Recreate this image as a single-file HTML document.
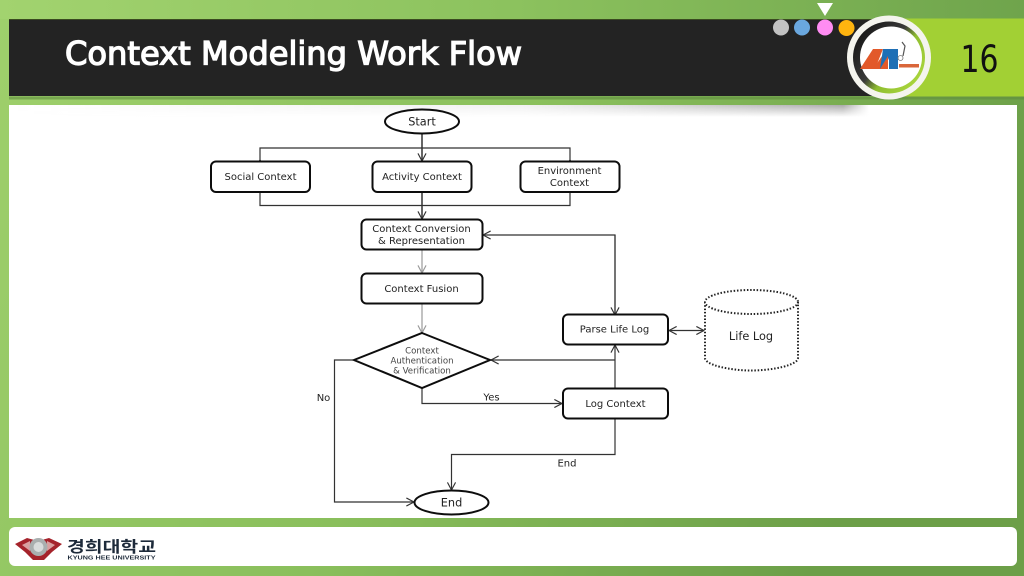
<!DOCTYPE html>
<html>
<head>
<meta charset="utf-8">
<style>
html,body{margin:0;padding:0;width:1024px;height:576px;overflow:hidden;background:#8cc05c}
svg{display:block}
text{font-family:"DejaVu Sans","Liberation Sans",sans-serif;fill:#222;text-anchor:middle}
</style>
</head>
<body>
<svg width="1024" height="576" viewBox="0 0 1024 576" xmlns="http://www.w3.org/2000/svg">
<defs>
<linearGradient id="bg" x1="0" y1="0" x2="1" y2="0.3">
<stop offset="0" stop-color="#9fd06c"/><stop offset="0.55" stop-color="#8abf5c"/><stop offset="1" stop-color="#6c9f48"/>
</linearGradient>
<linearGradient id="topb" x1="0" y1="0" x2="1" y2="0">
<stop offset="0" stop-color="#a2d36f"/><stop offset="0.5" stop-color="#8cc25e"/><stop offset="1" stop-color="#6fa44c"/>
</linearGradient>
<linearGradient id="shadow" x1="0" y1="0" x2="1" y2="0">
<stop offset="0" stop-color="#888" stop-opacity="0"/><stop offset="0.6" stop-color="#888" stop-opacity=".12"/><stop offset="0.97" stop-color="#666" stop-opacity=".55"/><stop offset="1" stop-color="#666" stop-opacity="0"/>
</linearGradient>
<linearGradient id="shadowFade" x1="0" y1="0" x2="0" y2="1">
<stop offset="0" stop-color="#fff"/><stop offset="1" stop-color="#000"/>
</linearGradient>
<mask id="sm"><rect x="9" y="105" width="860" height="12" fill="url(#shadowFade)"/></mask>
<linearGradient id="ring" x1="0.1" y1="0.2" x2="0.9" y2="0.8">
<stop offset="0" stop-color="#1a1a1a"/><stop offset="0.42" stop-color="#3a3a3a"/><stop offset="0.62" stop-color="#8fbe30"/><stop offset="1" stop-color="#a8d43c"/>
</linearGradient>
<filter id="soft" x="-2%" y="-2%" width="104%" height="104%"><feGaussianBlur stdDeviation="0.35"/></filter>
<marker id="a" viewBox="0 0 10 10" refX="9.5" refY="5" markerWidth="9" markerHeight="9" markerUnits="userSpaceOnUse" orient="auto-start-reverse">
<path d="M1 .5 L9.5 5 L1 9.5" fill="none" stroke="#333" stroke-width="1.3"/>
</marker>
<marker id="g" viewBox="0 0 10 10" refX="9.5" refY="5" markerWidth="9" markerHeight="9" markerUnits="userSpaceOnUse" orient="auto">
<path d="M1 .5 L9.5 5 L1 9.5" fill="none" stroke="#999" stroke-width="1.3"/>
</marker>
</defs>

<!-- background -->
<rect width="1024" height="576" fill="url(#bg)"/>
<rect width="1024" height="19" fill="url(#topb)"/>

<!-- white panels -->
<rect x="9" y="105" width="1008" height="413" fill="#fff"/>
<rect x="9" y="527" width="1008" height="39" rx="6" fill="#fff"/>

<!-- header -->
<rect x="9" y="19" width="900" height="77" fill="#232323"/>
<rect x="9" y="19" width="900" height="1" fill="#3a4a20"/>
<rect x="903" y="18.500" width="121" height="78" fill="#a2d034"/>
<rect x="9" y="96.500" width="1015" height="3" fill="#5f8c3e" opacity=".6"/>
<rect x="9" y="105" width="860" height="12" fill="url(#shadow)" mask="url(#sm)"/>
<text x="65" y="64.500" style="text-anchor:start;fill:#fff;stroke:#fff;stroke-width:1.300;font-size:32px" textLength="457" lengthAdjust="spacingAndGlyphs">Context Modeling Work Flow</text>
<text x="979.500" y="72" style="fill:#111;font-size:37px" textLength="38" lengthAdjust="spacingAndGlyphs">16</text>

<!-- dots -->
<circle cx="781" cy="27.500" r="8" fill="#c2c2c2"/>
<circle cx="802" cy="27.500" r="8" fill="#6aa7de"/>
<circle cx="825" cy="27.500" r="8" fill="#ff8cf2"/>
<circle cx="846.500" cy="28" r="8" fill="#ffb40f"/>
<path d="M817 3H833L825 16Z" fill="#fff"/>

<!-- logo -->
<circle cx="889" cy="57.500" r="42" fill="#f4f4ee"/>
<circle cx="889" cy="57.500" r="36" fill="url(#ring)"/>
<circle cx="891" cy="57.500" r="31" fill="#fff"/>
<path d="M860 69L873 49H883L875 69Z" fill="#e2592a"/>
<path d="M873 69L887 49H892L884 69Z" fill="#e2592a"/>
<path d="M883 49H898V69H889V58L884 69H880Z" fill="#1f6fb5"/>
<path d="M880 69L888 56V69Z" fill="#e2592a"/>
<path d="M902 42L905 46L903 56" fill="none" stroke="#555" stroke-width="1.200"/>
<circle cx="900.500" cy="58" r="2.500" fill="none" stroke="#777" stroke-width=".8"/>
<rect x="899" y="64" width="20" height="3.500" fill="#d9663a"/>

<g filter="url(#soft)">
<!-- connectors -->
<g fill="none" stroke="#333" stroke-width="1.200">
<path d="M422 134V161" marker-end="url(#a)" stroke-width="1.500"/>
<path d="M260 161V148H570V161" />
<path d="M260 161V160" marker-end="url(#a)"/>
<path d="M570 161V160" marker-end="url(#a)"/>
<path d="M260 192V205.500H570V192"/>
<path d="M422 192V219" marker-end="url(#a)" stroke-width="1.500"/>
<path d="M615 315V235H483" marker-end="url(#a)"/>
<path d="M615 235V315" marker-end="url(#a)"/>
<path d="M615 389V345" marker-end="url(#a)"/>
<path d="M615 360H491" marker-end="url(#a)"/>
<path d="M422 388V403.500H562" marker-end="url(#a)"/>
<path d="M353 360H334.500V502H414" marker-end="url(#a)"/>
<path d="M615 418V454.500H451.500V490" marker-end="url(#a)"/>
<path d="M669 330.500H704" marker-start="url(#a)" marker-end="url(#a)"/>
</g>
<g fill="none" stroke="#999" stroke-width="1.200">
<path d="M422 250V273" marker-end="url(#g)"/>
<path d="M422 304V333" marker-end="url(#g)"/>
</g>

<!-- nodes -->
<g fill="#fff" stroke="#111" stroke-width="2">
<ellipse cx="422" cy="121.500" rx="37" ry="12"/>
<rect x="211" y="161.500" width="99" height="30.500" rx="5"/>
<rect x="372.500" y="161.500" width="99" height="30.500" rx="5"/>
<rect x="520.500" y="161.500" width="99" height="30.500" rx="5"/>
<rect x="361.500" y="219.500" width="121" height="30" rx="5"/>
<rect x="361.500" y="273.500" width="121" height="30" rx="5"/>
<path d="M422 333L490 360L422 388L354 360Z"/>
<rect x="563" y="314.500" width="105" height="30" rx="5"/>
<rect x="563" y="388.500" width="105" height="30" rx="5"/>
<ellipse cx="451.500" cy="502.500" rx="37" ry="12"/>
</g>

<!-- cylinder -->
<g fill="#fff" stroke="#222" stroke-width="2" stroke-dasharray="1.500 1.800">
<path d="M705 302V358C705 365 730 370.500 751.500 370.500C773 370.500 798 365 798 358V302"/>
<ellipse cx="751.500" cy="302" rx="46.500" ry="12"/>
</g>

<!-- labels -->
<g font-size="10">
<text x="422" y="125.500" font-size="11.300">Start</text>
<text x="260.500" y="180" font-size="10">Social Context</text>
<text x="422" y="180" font-size="10">Activity Context</text>
<text x="569.500" y="174" font-size="10">Environment</text>
<text x="569.500" y="186" font-size="10">Context</text>
<text x="421.500" y="232" font-size="10">Context Conversion</text>
<text x="421.500" y="244" font-size="10">&amp; Representation</text>
<text x="421.500" y="292" font-size="10">Context Fusion</text>
<text x="422" y="353.500" font-size="8.600" style="fill:#444">Context</text>
<text x="422" y="363.500" font-size="8.600" style="fill:#444">Authentication</text>
<text x="422" y="373.500" font-size="8.600" style="fill:#444">&amp; Verification</text>
<text x="614.500" y="332.500" font-size="10">Parse Life Log</text>
<text x="615.500" y="407" font-size="10">Log Context</text>
<text x="751" y="340" font-size="11.300">Life Log</text>
<text x="323.500" y="401" font-size="10">No</text>
<text x="491.500" y="400.500" font-size="10">Yes</text>
<text x="567" y="466.500" font-size="10">End</text>
<text x="451.500" y="506.500" font-size="11.300">End</text>
</g>
</g>

<!-- university logo -->
<path d="M15 544L27 538L38 541L49 538L62 544L52 552L44 560H33L25 552Z" fill="#a5232b"/>
<path d="M22 545L30 541L30 551Z M55 545L47 541L47 551Z" fill="#d9a0a0"/>
<circle cx="38.500" cy="547" r="9" fill="#a9afaf"/>
<circle cx="38.500" cy="547" r="5" fill="#d8dcdc"/>
<text x="67" y="552" style="text-anchor:start;fill:#1d2a3a;font-weight:700;font-size:15.500px;font-family:'Liberation Sans','Noto Sans CJK KR',sans-serif" textLength="89" lengthAdjust="spacingAndGlyphs">경희대학교</text>
<text x="67.500" y="559.500" style="text-anchor:start;fill:#1d2a3a;font-weight:700;font-size:5.500px;font-family:'Liberation Sans',sans-serif" textLength="88" lengthAdjust="spacingAndGlyphs">KYUNG HEE UNIVERSITY</text>
</svg>
</body>
</html>
